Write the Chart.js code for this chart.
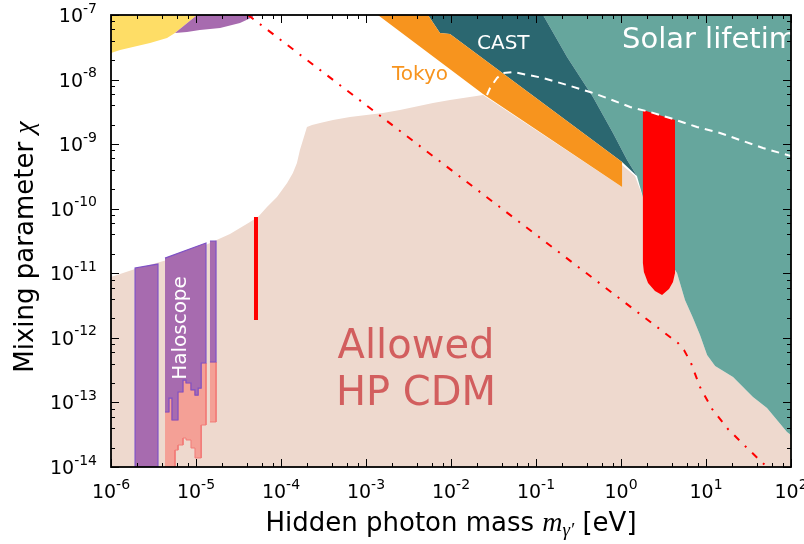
<!DOCTYPE html>
<html><head><meta charset="utf-8">
<script src="https://cdn.jsdelivr.net/npm/chart.js@4.4.1/dist/chart.umd.min.js"></script>
<style>html,body{margin:0;padding:0;background:#fff;}canvas{display:block;}</style>
</head><body>
<canvas id="c" width="804" height="544"></canvas>
<script>
// ---- tick labels (decade exponents) ----
const xTickExponents = [-6,-5,-4,-3,-2,-1,0,1,2];
const yTickExponents = [-14,-13,-12,-11,-10,-9,-8,-7];
const minorSubs = [2,4,6,8];

// ---- regions: [mass (eV), chi] ----
const allowedHPCDM = [[1e-6,1e-14],[1e-6,8.76e-12],[1.92e-6,1.16e-11],[3.77e-6,1.50e-11],[7.42e-6,1.92e-11],[1.46e-5,2.94e-11],[2.51e-5,4.06e-11],[4.32e-5,6.22e-11],[5.36e-5,7.44e-11],[6.84e-5,1.06e-10],[8.97e-5,1.52e-10],[1.18e-4,2.50e-10],[1.38e-4,3.57e-10],[1.54e-4,5.10e-10],[1.67e-4,8.11e-10],[1.86e-4,1.29e-9],[2.02e-4,1.84e-9],[2.32e-4,1.98e-9],[2.88e-4,2.13e-9],[4.09e-4,2.36e-9],[6.48e-4,2.63e-9],[1.58e-3,3.04e-9],[2.51e-3,3.38e-9],[6.14e-3,4.34e-9],[9.73e-3,4.83e-9],[2.38e-2,5.77e-9],[1.03,2.17e-10],[1.03,4.75e-10],[1.46,3.21e-10],[1.81,1.52e-10],[2.19,5.60e-11],[2.88,2.74e-11],[3.77,1.50e-11],[4.56,1.01e-11],[5.66,3.86e-12],[7.03,2.03e-12],[8.50,1.11e-12],[10.3,5.43e-13],[12.8,3.66e-13],[20.8,2.48e-13],[35.7,1.21e-13],[52.2,8.19e-14],[89.7,3.48e-14],[100,3.13e-14],[100,1e-14]];
const solarLifetime = [[0.121,1e-7],[0.232,2.24e-8],[0.468,5.37e-9],[0.805,1.49e-9],[1.18,5.68e-10],[1.54,3.21e-10],[1.81,1.52e-10],[2.19,5.60e-11],[2.88,2.74e-11],[3.77,1.50e-11],[4.56,1.01e-11],[5.66,3.86e-12],[7.03,2.03e-12],[8.50,1.11e-12],[10.3,5.43e-13],[12.8,3.66e-13],[20.8,2.48e-13],[35.7,1.21e-13],[52.2,8.19e-14],[89.7,3.48e-14],[100,3.13e-14],[100,1e-7]];
const cast = [[5.36e-3,1e-7],[0.121,1e-7],[0.232,2.24e-8],[0.468,5.37e-9],[0.805,1.49e-9],[1.18,5.68e-10],[1.54,3.21e-10],[1.03,5.29e-10],[9.73e-3,5.08e-8],[7.42e-3,5.26e-8]];
const tokyo = [[1.38e-3,1e-7],[5.36e-3,1e-7],[7.42e-3,5.26e-8],[9.73e-3,5.08e-8],[1.03,5.29e-10],[1.03,2.17e-10],[2.38e-2,5.98e-9]];
const topYellow = [[1e-6,1e-7],[1.03e-5,1e-7],[5.66e-6,5.26e-8],[4.56e-6,4.40e-8],[2.88e-6,3.68e-8],[1.81e-6,3.19e-8],[1.28e-6,2.87e-8],[1e-6,2.58e-8]];
const topPurple = [[1.03e-5,1e-7],[4.68e-5,1e-7],[4.68e-5,9.31e-8],[3.29e-5,7.52e-8],[1.92e-5,6.29e-8],[1.11e-5,5.86e-8],[7.84e-6,5.46e-8],[5.66e-6,5.26e-8]];
const haloBar1 = [[1.92e-6,1e-14],[1.92e-6,1.21e-11],[3.57e-6,1.39e-11],[3.57e-6,1e-14]];
const haloBar2 = [[4.32e-6,1.72e-11],[1.31e-5,2.94e-11],[1.31e-5,4.08e-13],[1.15e-5,4.08e-13],[1.15e-5,1.67e-13],[1.06e-5,1.67e-13],[1.06e-5,1.30e-13],[9.73e-6,1.30e-13],[9.73e-6,1.56e-13],[8.73e-6,1.56e-13],[8.73e-6,2.00e-13],[7.63e-6,2.00e-13],[7.63e-6,2.22e-13],[7.03e-6,2.22e-13],[7.03e-6,1.45e-13],[6.14e-6,1.45e-13],[6.14e-6,5.34e-14],[5.22e-6,5.34e-14],[5.22e-6,1.17e-13],[4.81e-6,1.17e-13],[4.81e-6,7.11e-14],[4.32e-6,7.11e-14]];
const haloBar2Pink = [[4.32e-6,7.11e-14],[4.81e-6,7.11e-14],[4.81e-6,1.17e-13],[5.22e-6,1.17e-13],[5.22e-6,5.34e-14],[6.14e-6,5.34e-14],[6.14e-6,1.45e-13],[7.03e-6,1.45e-13],[7.03e-6,2.22e-13],[7.63e-6,2.22e-13],[7.63e-6,2.00e-13],[8.73e-6,2.00e-13],[8.73e-6,1.56e-13],[9.73e-6,1.56e-13],[9.73e-6,1.30e-13],[1.06e-5,1.30e-13],[1.06e-5,1.67e-13],[1.15e-5,1.67e-13],[1.15e-5,4.08e-13],[1.31e-5,4.08e-13],[1.31e-5,4.47e-14],[1.15e-5,4.47e-14],[1.15e-5,1.38e-14],[9.73e-6,1.38e-14],[9.73e-6,1.97e-14],[8.73e-6,1.97e-14],[8.73e-6,2.62e-14],[7.63e-6,2.62e-14],[7.63e-6,2.81e-14],[7.03e-6,2.81e-14],[7.03e-6,2.19e-14],[6.14e-6,2.19e-14],[6.14e-6,1.83e-14],[5.66e-6,1.83e-14],[5.66e-6,1e-14],[4.32e-6,1e-14]];
const haloBar3 = [[1.46e-5,3.16e-11],[1.72e-5,3.16e-11],[1.72e-5,4.23e-13],[1.46e-5,4.23e-13]];
const haloBar3Pink = [[1.46e-5,4.23e-13],[1.72e-5,4.23e-13],[1.72e-5,4.98e-14],[1.46e-5,4.98e-14]];
const redBar = [[5.08e-5,7.44e-11],[5.08e-5,1.89e-12]];
const redU = [[1.81,3.38e-9],[4.32,2.36e-9],[4.32,1.01e-11],[4.09,7.33e-12],[3.67,5.71e-12],[3.04,4.61e-12],[2.51,5.32e-12],[2.08,7.07e-12],[1.86,1.05e-11],[1.81,1.44e-11]];
const redDashDot = [[4.09e-5,1e-7],[4.68,8.32e-13],[5.51,6.48e-13],[6.66,4.08e-13],[8.50,1.73e-13],[11.8,7.91e-14],[18.1,3.88e-14],[30.4,1.97e-14],[52.2,1e-14]];
const whiteDashed = [[2.65e-2,5.77e-9],[2.88e-2,7.40e-9],[3.48e-2,1.06e-8],[4.09e-2,1.26e-8],[5.36e-2,1.31e-8],[0.121,1.06e-8],[0.232,8.24e-9],[0.432,6.42e-9],[0.684,5.18e-9],[1.28,3.76e-9],[2.19,3.15e-9],[3.77,2.54e-9],[7.84,1.84e-9],[14.6,1.49e-9],[25.1,1.16e-9],[46.8,8.71e-10],[100,6.55e-10]];

const pts = a => a.map(p => ({x: p[0], y: p[1]}));
function shape(data, fillColor, order, border, bw) {
  return {data: pts(data), fill: 'shape', backgroundColor: fillColor,
    borderColor: border || 'rgba(0,0,0,0)', borderWidth: bw || 0,
    pointRadius: 0, tension: 0, order: order};
}
function line(data, color, width, dash, order) {
  return {data: pts(data), fill: false, borderColor: color, borderWidth: width,
    borderDash: dash, pointRadius: 0, tension: 0, order: order, borderCapStyle: 'butt'};
}

const PURPLE = '#A76BAF', VIOLET = '#7E52C6', PINK = '#F4A096', PINKEDGE = '#F27C78';
const datasets = [
  shape(allowedHPCDM, '#EED9CE', 20),
  shape(solarLifetime, '#66A69D', 19),
  shape(cast, '#2B6770', 18),
  shape(tokyo, '#F7941E', 17),
  shape(topYellow, '#FEDD66', 16),
  shape(topPurple, PURPLE, 15),
  shape(haloBar2Pink, PINK, 14, PINKEDGE, 1),
  shape(haloBar3Pink, PINK, 13, PINKEDGE, 1),
  shape(haloBar1, PURPLE, 12, VIOLET, 1.2),
  shape(haloBar2, PURPLE, 11, VIOLET, 1.2),
  shape(haloBar3, PURPLE, 10, VIOLET, 1.2),
  line(redBar, '#FF0000', 4, [], 9),
  shape(redU, '#FF0000', 8),
  line(redDashDot, '#FF0000', 2, [7,8,2,8], 7),
  line(whiteDashed, '#FFFFFF', 2, [8,6], 6)
];

function drawParts(ctx, parts, x, y) {
  let cx = x;
  for (const p of parts) {
    ctx.font = p.f;
    ctx.fillText(p.t, cx, y + (p.dy || 0));
    cx += ctx.measureText(p.t).width;
  }
}
function partsWidth(ctx, parts) {
  let w = 0;
  for (const p of parts) { ctx.font = p.f; w += ctx.measureText(p.t).width; }
  return w;
}

const BASE = '19px "DejaVu Sans"', SUP = '14px "DejaVu Sans"';
const decoPlugin = {
  id: 'deco',
  afterDatasetsDraw(chart) {
    const ctx = chart.ctx, a = chart.chartArea;
    ctx.save();
    ctx.beginPath(); ctx.rect(a.left, a.top, a.right - a.left, a.bottom - a.top); ctx.clip();
    ctx.textBaseline = 'alphabetic';
    ctx.fillStyle = '#D25E5E'; ctx.font = '40px "DejaVu Sans"'; ctx.textAlign = 'center';
    ctx.fillText('Allowed', 416, 358);
    ctx.fillText('HP CDM', 416, 405);
    ctx.textAlign = 'left';
    ctx.fillStyle = '#FFFFFF'; ctx.font = '29px "DejaVu Sans"';
    ctx.fillText('Solar lifetime', 622, 48);
    ctx.font = '20px "DejaVu Sans"';
    ctx.fillText('CAST', 477, 49);
    ctx.fillStyle = '#F7941E';
    ctx.fillText('Tokyo', 392, 80);
    ctx.save();
    ctx.translate(186, 328); ctx.rotate(-Math.PI/2);
    ctx.fillStyle = '#FFFFFF'; ctx.textAlign = 'center';
    ctx.fillText('Haloscope', 0, 0);
    ctx.restore();
    ctx.restore();
  },
  afterDraw(chart) {
    const ctx = chart.ctx, a = chart.chartArea, xs = chart.scales.x, ys = chart.scales.y;
    ctx.save();
    ctx.strokeStyle = '#000'; ctx.lineWidth = 1;
    ctx.beginPath();
    for (const e of xTickExponents) {
      const base = Math.pow(10, e);
      const px = Math.round(xs.getPixelForValue(base)) + 0.5;
      ctx.moveTo(px, a.bottom); ctx.lineTo(px, a.bottom - 8);
      ctx.moveTo(px, a.top); ctx.lineTo(px, a.top + 8);
      if (e < xTickExponents[xTickExponents.length - 1]) {
        for (const s of minorSubs) {
          const mx = Math.round(xs.getPixelForValue(s * base)) + 0.5;
          ctx.moveTo(mx, a.bottom); ctx.lineTo(mx, a.bottom - 4);
          ctx.moveTo(mx, a.top); ctx.lineTo(mx, a.top + 4);
        }
      }
    }
    for (const e of yTickExponents) {
      const base = Math.pow(10, e);
      const py = Math.round(ys.getPixelForValue(base)) + 0.5;
      ctx.moveTo(a.left, py); ctx.lineTo(a.left + 8, py);
      ctx.moveTo(a.right, py); ctx.lineTo(a.right - 8, py);
      if (e < yTickExponents[yTickExponents.length - 1]) {
        for (const s of minorSubs) {
          const my = Math.round(ys.getPixelForValue(s * base)) + 0.5;
          ctx.moveTo(a.left, my); ctx.lineTo(a.left + 4, my);
          ctx.moveTo(a.right, my); ctx.lineTo(a.right - 4, my);
        }
      }
    }
    ctx.stroke();
    ctx.lineWidth = 1.8;
    ctx.strokeRect(a.left, a.top, a.right - a.left, a.bottom - a.top);

    // tick labels
    ctx.fillStyle = '#000'; ctx.textAlign = 'left'; ctx.textBaseline = 'alphabetic';
    for (const e of xTickExponents) {
      const px = xs.getPixelForValue(Math.pow(10, e));
      const parts = [{t: '10', f: BASE}, {t: String(e), f: SUP, dy: -9}];
      const w = partsWidth(ctx, parts);
      drawParts(ctx, parts, px - w/2, a.bottom + 31);
    }
    for (const e of yTickExponents) {
      const py = ys.getPixelForValue(Math.pow(10, e));
      const parts = [{t: '10', f: BASE}, {t: String(e), f: SUP, dy: -9.5}];
      const w = partsWidth(ctx, parts);
      drawParts(ctx, parts, a.left - 14 - w, py + 7);
    }
    // axis titles
    const xt = [{t: 'Hidden photon mass ', f: '26px "DejaVu Sans"'}, {t: 'm', f: 'italic 28px "Liberation Serif"'},
                {t: 'γ′', f: 'italic 19px "Liberation Serif"', dy: 5}, {t: ' [eV]', f: '26px "DejaVu Sans"'}];
    const xw = partsWidth(ctx, xt);
    drawParts(ctx, xt, (a.left + a.right)/2 - xw/2, 531);
    const yt = [{t: 'Mixing parameter ', f: '26px "DejaVu Sans"'}, {t: 'χ', f: 'italic 28px "Liberation Serif"'}];
    const yw = partsWidth(ctx, yt);
    ctx.save();
    ctx.translate(33, 247); ctx.rotate(-Math.PI/2);
    drawParts(ctx, yt, -yw/2, 0);
    ctx.restore();
    ctx.restore();
  }
};

new Chart(document.getElementById('c'), {
  type: 'line',
  data: {datasets},
  options: {
    responsive: false, animation: false, devicePixelRatio: 1, events: [],
    layout: {padding: {left: 111, top: 15, right: 13, bottom: 77}},
    plugins: {legend: {display: false}, tooltip: {enabled: false}},
    scales: {
      x: {type: 'logarithmic', min: 1e-6, max: 1e2, display: false},
      y: {type: 'logarithmic', min: 1e-14, max: 1e-7, display: false}
    }
  },
  plugins: [decoPlugin]
});
</script>
</body></html>
